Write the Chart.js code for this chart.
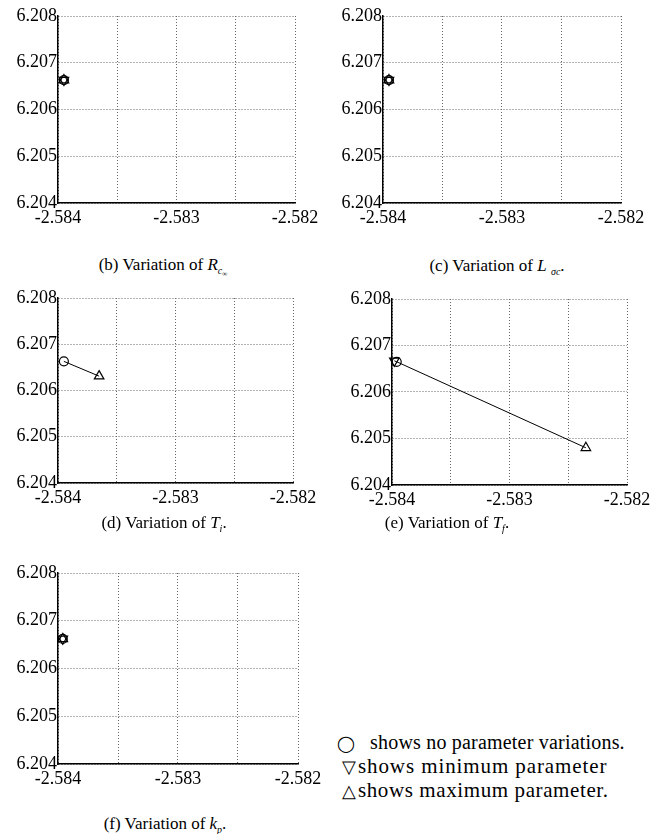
<!DOCTYPE html>
<html>
<head>
<meta charset="utf-8">
<script src="https://cdn.jsdelivr.net/npm/chart.js@4"></script>
<style>
  body { margin: 0; background: #fff; }
  #page { position: relative; width: 653px; height: 834px; background: #fff; font-family: 'Liberation Serif', serif; color: #000; }
  canvas { position: absolute; }
  .cap { position: absolute; transform: translate(-50%, -50%); white-space: nowrap; font-size: 17px; }
  .cap i { font-style: italic; }
  .sub { font-size: 10px; vertical-align: -4px; font-style: italic; }
  .subsub { font-size: 7px; vertical-align: -2px; }
  .leg { position: absolute; white-space: nowrap; transform: translateY(-50%); }
  .sym { display: inline-block; letter-spacing: 0; }
</style>
</head>
<body>
<div id="page"></div>
<script>
// axis ranges and tick labels (same for every panel)
const xMin = -2.584, xMax = -2.582, xStep = 0.0005;
const yMin = 6.204, yMax = 6.208, yStep = 0.001;
const xTickLabels = ['-2.584', '-2.583', '-2.582'];
const yTickLabels = ['6.204', '6.205', '6.206', '6.207', '6.208'];

// one entry per panel: (b) (c) (d) (e) (f)
const panelIds = ['b', 'c', 'd', 'e', 'f'];
const nominalX = [-2.58395, -2.58395, -2.58395, -2.58396, -2.58396];
const nominalY = [6.20663, 6.20663, 6.20663, 6.20665, 6.20662];
const minParamX = [-2.58395, -2.58395, null, -2.58398, -2.58396];
const minParamY = [6.20663, 6.20663, null, 6.20667, 6.20662];
const maxParamX = [-2.58395, -2.58395, -2.58365, -2.58235, -2.58396];
const maxParamY = [6.20663, 6.20663, 6.20631, 6.20480, 6.20662];
const captions = [
  '(b) Variation of <i>R</i><span class="sub">c<span class="subsub">∞</span></span>',
  '(c) Variation of <i>L</i> <span class="sub">σc</span>.',
  '(d) Variation of <i>T</i><span class="sub">i</span>.',
  '(e) Variation of <i>T</i><span class="sub">f</span>.',
  '(f) Variation of <i>k</i><span class="sub">p</span>.'
];

// plot area of each panel on the page
const areas = [
  { left: 58, top: 16, right: 295, bottom: 203 },
  { left: 383, top: 16, right: 621, bottom: 203 },
  { left: 58, top: 298, right: 293, bottom: 483 },
  { left: 392, top: 299, right: 627, bottom: 485 },
  { left: 58, top: 573, right: 298, bottom: 764 }
];
const capPos = [[163, 266], [497, 266], [164, 523], [447, 523], [165, 824]];

const page = document.getElementById('page');
const tickFont = { family: "'Liberation Serif', 'Times New Roman', serif", size: 18 };
const Y_AXIS_W = 58, X_AXIS_H = 32, PAD_TOP = 16, PAD_RIGHT = 30;

panelIds.forEach((id, i) => {
  const a = areas[i];
  const canvas = document.createElement('canvas');
  const w = a.right - a.left + Y_AXIS_W + PAD_RIGHT;
  const h = a.bottom - a.top + PAD_TOP + X_AXIS_H;
  canvas.width = w;
  canvas.height = h;
  canvas.style.left = (a.left - Y_AXIS_W) + 'px';
  canvas.style.top = (a.top - PAD_TOP) + 'px';
  canvas.style.width = w + 'px';
  canvas.style.height = h + 'px';
  page.appendChild(canvas);

  const pts = [], styles = [], rots = [], radii = [];
  if (minParamX[i] !== null) {
    pts.push({ x: minParamX[i], y: minParamY[i] });
    styles.push('triangle'); rots.push(180); radii.push(5.5);
  }
  pts.push({ x: nominalX[i], y: nominalY[i] });
  styles.push('circle'); rots.push(0); radii.push(4.5);
  pts.push({ x: maxParamX[i], y: maxParamY[i] });
  styles.push('triangle'); rots.push(0); radii.push(5.5);

  new Chart(canvas.getContext('2d'), {
    type: 'scatter',
    data: {
      datasets: [{
        data: pts,
        showLine: true,
        borderColor: '#000',
        borderWidth: 1,
        pointStyle: styles,
        rotation: rots,
        pointRadius: radii,
        pointBorderColor: '#000',
        pointBackgroundColor: 'rgba(0,0,0,0)',
        pointBorderWidth: 1.2,
        clip: false
      }]
    },
    options: {
      responsive: false,
      animation: false,
      devicePixelRatio: 1,
      layout: { padding: { top: PAD_TOP, right: PAD_RIGHT, left: 0, bottom: 0 } },
      plugins: { legend: { display: false }, tooltip: { enabled: false } },
      scales: {
        x: {
          type: 'linear',
          min: xMin,
          max: xMax,
          afterFit: s => { s.height = X_AXIS_H; },
          ticks: {
            stepSize: xStep,
            autoSkip: false,
            maxRotation: 0,
            padding: 4,
            color: '#000',
            font: tickFont,
            callback: v => {
              const k = Math.round((v - xMin) / 0.001 * 1000) / 1000;
              return Number.isInteger(k) ? xTickLabels[k] : '';
            }
          },
          grid: { color: '#666', lineWidth: 1, drawTicks: false },
          border: { color: '#000', width: 1.5, dash: [1, 2] }
        },
        y: {
          type: 'linear',
          min: yMin,
          max: yMax,
          afterFit: s => { s.width = Y_AXIS_W; },
          ticks: {
            stepSize: yStep,
            autoSkip: false,
            padding: 1,
            color: '#000',
            font: tickFont,
            callback: v => yTickLabels[Math.round((v - yMin) / yStep)]
          },
          grid: { color: '#666', lineWidth: 1, drawTicks: false },
          border: { color: '#000', width: 1.5, dash: [1, 2] }
        }
      }
    }
  });

  const cap = document.createElement('div');
  cap.className = 'cap';
  cap.innerHTML = captions[i];
  cap.style.left = capPos[i][0] + 'px';
  cap.style.top = capPos[i][1] + 'px';
  page.appendChild(cap);
});

// note text at the lower right: symbol, text, left, centre y, symbol box, text size, letter spacing
const notes = [
  ['◯', 'shows no parameter variations.', 337, 742, 33, 16, 20, 0.2],
  ['▽', 'shows minimum parameter', 342, 766, 16, 18, 21, 0.9],
  ['△', 'shows maximum parameter.', 342, 790, 16, 18, 21, 0.6]
];
notes.forEach(n => {
  const d = document.createElement('div');
  d.className = 'leg';
  const s = document.createElement('span');
  s.className = 'sym';
  s.style.width = n[4] + 'px';
  s.style.fontSize = n[5] + 'px';
  s.textContent = n[0];
  const t = document.createElement('span');
  t.style.fontSize = n[6] + 'px';
  t.style.letterSpacing = n[7] + 'px';
  t.textContent = n[1];
  d.appendChild(s);
  d.appendChild(t);
  d.style.left = n[2] + 'px';
  d.style.top = n[3] + 'px';
  page.appendChild(d);
});
</script>
</body>
</html>
